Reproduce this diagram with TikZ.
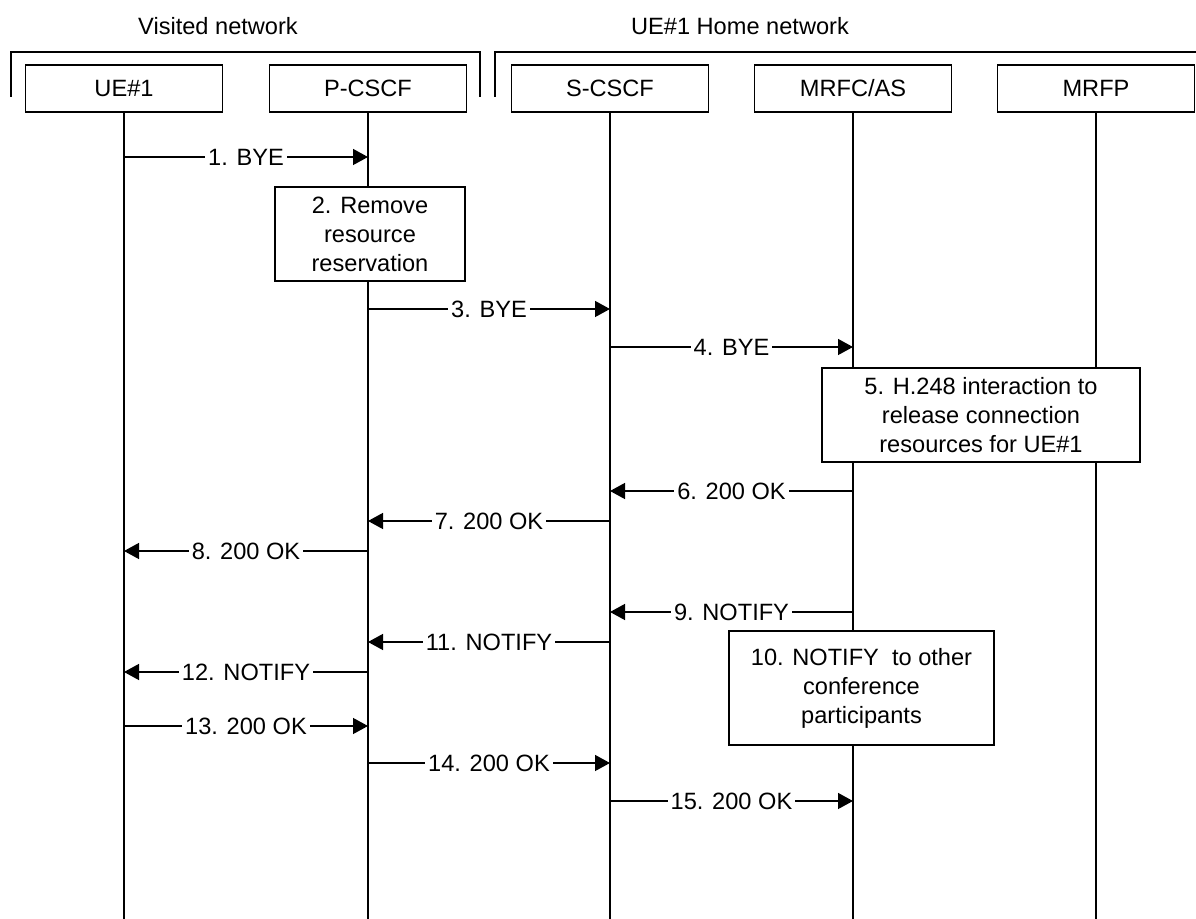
\documentclass[tikz,border=0pt]{standalone}
\usepackage{fontspec}
\setmainfont{Liberation Sans}
\usetikzlibrary{arrows.meta}
\tikzstyle{entity} = [rectangle, draw=black, line width=0.7pt, minimum width=98.5pt, minimum height=23.5pt, inner sep=0pt, text centered]
\tikzstyle{action} = [rectangle, draw=black, line width=0.7pt, inner sep=0pt, align=center]
\tikzstyle{msg} = [fill=white, inner sep=1.5pt]
\tikzstyle{line} = [line width=0.7pt]
\tikzstyle{arrow} = [line width=0.7pt, -{Triangle[length=7.5pt, width=8pt]}]

\begin{document}
\begin{tikzpicture}[x=0.5pt, y=-0.5pt, font=\fontsize{11.8}{14.5}\selectfont]
        \useasboundingbox (0,0) rectangle (1196,919);
        % network headings and brackets
        \node (visited) at (218,26) {Visited network};
        \node (home) at (740,26) {UE\#1 Home network};
        \draw [line] (11,97) -- (11,52) -- (480,52) -- (480,97);
        \draw [line] (495,97) -- (495,52) -- (1196,52);
        % entities
        \node (ue) [entity] at (124,88.5) {UE\#1};
        \node (pcscf) [entity] at (368,88.5) {P-CSCF};
        \node (scscf) [entity] at (610,88.5) {S-CSCF};
        \node (mrfc) [entity] at (853,88.5) {MRFC/AS};
        \node (mrfp) [entity] at (1096,88.5) {MRFP};
        % lifelines
        \coordinate (ueend) at (124,919);
        \coordinate (pcscfend) at (368,919);
        \coordinate (scscfend) at (610,919);
        \coordinate (mrfcend) at (853,919);
        \coordinate (mrfpend) at (1096,919);
        \draw [line] (ue) -- (ueend);
        \draw [line] (pcscf) -- (pcscfend);
        \draw [line] (scscf) -- (scscfend);
        \draw [line] (mrfc) -- (mrfcend);
        \draw [line] (mrfp) -- (mrfpend);
        % local actions
        \node (remove) [action, minimum width=95pt, minimum height=47pt, fill=white] at (370,234) {2. Remove\\resource\\reservation};
        \node (hinter) [action, minimum width=159pt, minimum height=47pt, fill=white] at (981,415) {5. H.248 interaction to\\release connection\\resources for UE\#1};
        \node (notother) [action, minimum width=132.5pt, minimum height=57pt, fill=white] at (861.5,688) {10. NOTIFY\ \ to other\\conference\\participants};
        % messages
        \coordinate (bye1a) at (124,157);
        \coordinate (bye1b) at (368,157);
        \draw [arrow] (bye1a) -- node [msg] {1. BYE} (bye1b);
        \coordinate (bye3a) at (368,309);
        \coordinate (bye3b) at (610,309);
        \draw [arrow] (bye3a) -- node [msg] {3. BYE} (bye3b);
        \coordinate (bye4a) at (610,347);
        \coordinate (bye4b) at (853,347);
        \draw [arrow] (bye4a) -- node [msg] {4. BYE} (bye4b);
        \coordinate (ok6a) at (853,491);
        \coordinate (ok6b) at (610,491);
        \draw [arrow] (ok6a) -- node [msg] {6. 200 OK} (ok6b);
        \coordinate (ok7a) at (610,521);
        \coordinate (ok7b) at (368,521);
        \draw [arrow] (ok7a) -- node [msg] {7. 200 OK} (ok7b);
        \coordinate (ok8a) at (368,551);
        \coordinate (ok8b) at (124,551);
        \draw [arrow] (ok8a) -- node [msg] {8. 200 OK} (ok8b);
        \coordinate (not9a) at (853,612);
        \coordinate (not9b) at (610,612);
        \draw [arrow] (not9a) -- node [msg] {9. NOTIFY} (not9b);
        \coordinate (not11a) at (610,642);
        \coordinate (not11b) at (368,642);
        \draw [arrow] (not11a) -- node [msg] {11. NOTIFY} (not11b);
        \coordinate (not12a) at (368,672);
        \coordinate (not12b) at (124,672);
        \draw [arrow] (not12a) -- node [msg] {12. NOTIFY} (not12b);
        \coordinate (ok13a) at (124,726);
        \coordinate (ok13b) at (368,726);
        \draw [arrow] (ok13a) -- node [msg] {13. 200 OK} (ok13b);
        \coordinate (ok14a) at (368,763);
        \coordinate (ok14b) at (610,763);
        \draw [arrow] (ok14a) -- node [msg] {14. 200 OK} (ok14b);
        \coordinate (ok15a) at (610,801);
        \coordinate (ok15b) at (853,801);
        \draw [arrow] (ok15a) -- node [msg] {15. 200 OK} (ok15b);
    \end{tikzpicture}
\end{document}
